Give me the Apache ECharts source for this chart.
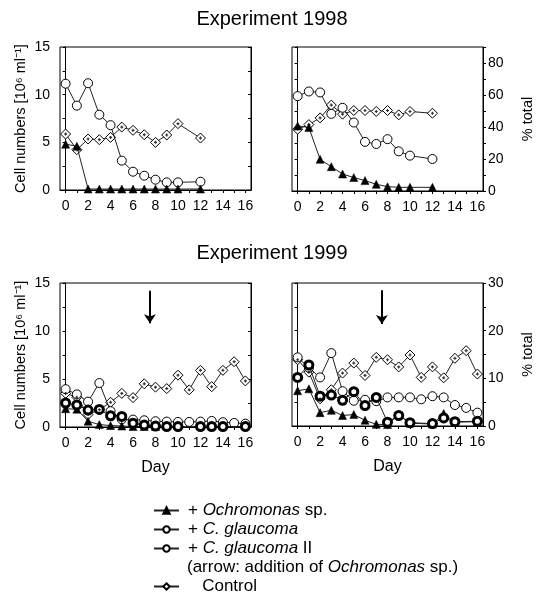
<!DOCTYPE html>
<html><head><meta charset="utf-8">
<script src="https://cdn.jsdelivr.net/npm/echarts@6/dist/echarts.min.js"></script>
<style>html,body{margin:0;padding:0;background:#fff}#c{width:544px;height:615px}</style>
</head><body><div id="c"></div>
<script>
// ---- tick labels ----
const xTickLabels = [0,2,4,6,8,10,12,14,16];
const xTickDays = [0,1,2,3,4,5,6,7,8,9,10,11,12,13,14,15,16];

// ---- Experiment 1998 ----
const days1998 = [0,1,2,3,4,5,6,7,8,9,10,12];
const cells98Ochro   = [4.8,4.6,0.1,0.1,0.1,0.1,0.1,0.1,0.1,0.1,0.1,0.1];
const cells98Glauc   = [11.15,8.85,11.2,7.9,6.8,3.08,1.92,1.5,1.08,0.8,0.8,0.87];
const cells98Control = [5.87,4.23,5.35,5.28,5.52,6.6,6.26,5.8,5.0,5.77,6.96,5.45];
const pct98Ochro   = [40.7,39.7,19.8,15.2,10.6,8.4,6.5,4.2,2.7,2.3,2.3,2.3];
const pct98Glauc   = [59.3,62.2,61.6,48.2,52,42.8,30.7,29.4,32.4,24.8,22.1,20];
const pct98Control = [38.6,41.5,45.7,53.7,48,50.3,50.3,49.7,50.3,47.6,49.7,48.6];

// ---- Experiment 1999 ----
const days1999All = [0,1,2,3,4,5,6,7,8,9,10,11,12,13,14,15,16];
const days1999II  = [0,1,2,3,4,5,6,7,8,9,10,12,13,14,16];
const days1999OchroCells = [0,1,2,3,4,5,6,7,8];
const cells99Ochro   = [1.9,1.85,0.6,0.25,0.15,0.1,0.05,0.05,0.05];
const cells99Glauc   = [3.94,3.4,2.64,4.58,1.65,0.8,0.77,0.7,0.6,0.56,0.53,0.53,0.56,0.63,0.5,0.42,0.35];
const cells99GlaucII = [2.5,2.3,1.76,1.83,1.16,1.1,0.4,0.2,0.1,0.05,0.05,0.05,0.05,0.05,0.05];
const cells99Control = [3.5,3.1,1.3,1.8,2.57,3.5,3.06,4.5,4.15,4.0,5.4,3.87,5.9,4.2,5.9,6.8,4.8];
const days1999OchroPct = [0,1,2,3,4,5,6,7,8,9,10,12,13,14,16];
const pct99Ochro   = [7.4,7.8,2.8,3.3,2.2,2.4,1.2,0.35,0.3,2.4,0.6,0.4,2.6,0.8,0.9];
const pct99Glauc   = [14.4,12.2,10.2,15.3,7.3,5.3,5.5,5.2,6.0,6.0,6.0,5.6,6.25,6.0,4.4,3.8,2.8];
const pct99GlaucII = [10.2,12.8,6.25,6.5,5.4,7.2,4.3,6.0,0.8,2.2,0.7,0.5,1.7,0.9,1.0];
const pct99Control = [13.9,11.3,5.7,7.6,11.1,13.2,10.6,14.4,13.9,12.4,14.9,10.2,12.4,10.1,14.2,15.8,10.9];

// ---- arrows (addition of Ochromonas) ----
const arrowDay = 7.5;
const arrowCells = [14.2, 10.8];
const arrowPct = [28.5, 21.4];

const FONT = 'Liberation Sans, Arial, sans-serif';
const pair = (days, vals) => days.map((d, i) => [d, vals[i]]);

const grids = [
  {left:60, top:47, width:191, height:143},
  {left:292, top:47, width:191, height:144},
  {left:60, top:283, width:191, height:144},
  {left:292, top:283, width:191, height:143}
];
grids.forEach(g => { g.show = true; g.borderColor = '#000'; g.borderWidth = 1; g.backgroundColor = 'transparent'; });

const axLine = {show:true, lineStyle:{color:'#000', width:1}};
const lbl = {color:'#000', fontSize:14, fontFamily:FONT};

const xAxes = grids.map((g, i) => ({
  type:'value', gridIndex:i, min:-0.5, max:16.5,
  axisLine: axLine, splitLine:{show:false},
  axisTick:{show:true, customValues:xTickDays, length:3, lineStyle:{color:'#000'}},
  axisLabel:Object.assign({customValues:xTickLabels, margin:9}, lbl),
  name: i >= 2 ? 'Day' : '', nameLocation:'middle', nameGap:33,
  nameTextStyle:{color:'#000', fontSize:16, fontFamily:FONT}
}));

function yAx(gi, pos, max, interval, opts) {
  return Object.assign({
    type:'value', gridIndex:gi, position:pos, min:0, max:max, interval:interval,
    axisLine: axLine, splitLine:{show:false},
    axisTick:{show:true, length:3, inside:false, lineStyle:{color:'#000'}},
    axisLabel:Object.assign({show:false, margin:6}, lbl),
    nameLocation:'middle', nameRotate:90,
    nameTextStyle:{color:'#000', fontSize:14.5, fontFamily:FONT}
  }, opts || {});
}
const cellName = 'Cell numbers [10\u2076 ml\u207B\u00B9]';
const yAxes = [
  yAx(0,'left',15,5,{axisLabel:Object.assign({show:true, margin:10}, lbl), minorTick:{show:true, splitNumber:2, length:3, lineStyle:{color:'#000'}}, name:cellName, nameGap:32}),
  yAx(0,'right',15,2.5,{axisTick:{show:true, inside:true, length:3, lineStyle:{color:'#000'}}}),
  yAx(1,'left',90,10,{}),
  yAx(1,'right',90,10,{axisLabel:Object.assign({show:true, margin:5, formatter: v => (v % 20 === 0 && v < 90) ? String(v) : ''}, lbl), name:'% total', nameGap:37}),
  yAx(2,'left',15,5,{axisLabel:Object.assign({show:true, margin:10}, lbl), minorTick:{show:true, splitNumber:2, length:3, lineStyle:{color:'#000'}}, name:cellName, nameGap:32}),
  yAx(2,'right',15,2.5,{axisTick:{show:true, inside:true, length:3, lineStyle:{color:'#000'}}}),
  yAx(3,'left',30,5,{}),
  yAx(3,'right',30,10,{axisLabel:Object.assign({show:true, margin:5}, lbl), minorTick:{show:true, splitNumber:2, length:3, lineStyle:{color:'#000'}}, name:'% total', nameGap:37})
];

const lineSt = {color:'#222', width:1};
const styles = {
  Ochromonas: {symbol:'triangle', symbolSize:8, itemStyle:{color:'#000', borderColor:'#000', borderWidth:0.5}},
  Glauc: {symbol:'circle', symbolSize:9, itemStyle:{color:'#fff', borderColor:'#000', borderWidth:1}},
  GlaucII: {symbol:'circle', symbolSize:8, itemStyle:{color:'#fff', borderColor:'#000', borderWidth:3}},
  Control: {symbol:'diamond', symbolSize:10, itemStyle:{color:'#fff', borderColor:'#000', borderWidth:1}}
};
function ser(name, xi, yi, days, vals, z) {
  return Object.assign({
    type:'line', name:name, xAxisIndex:xi, yAxisIndex:yi, data:pair(days, vals),
    lineStyle:lineSt, showAllSymbol:true, animation:false, z:z, connectNulls:true,
    emphasis:{disabled:true}
  }, styles[name]);
}
function dots(xi, yi, days, vals) {
  return {type:'scatter', name:'ctrlDot', xAxisIndex:xi, yAxisIndex:yi, data:pair(days, vals),
    symbol:'path://M-1,0L1,0M0,-1L0,1', symbolSize:3, z:9, animation:false, silent:true,
    itemStyle:{color:'none', borderColor:'#000', borderWidth:1.2}};
}
function arrow(xi, yi, vals) {
  return {type:'lines', coordinateSystem:'cartesian2d', xAxisIndex:xi, yAxisIndex:yi, animation:false, silent:true,
    symbol:['none','arrow'], symbolSize:[0,9],
    lineStyle:{color:'#000', width:2, opacity:1},
    data:[{coords:[[arrowDay, vals[0]],[arrowDay, vals[1]]]}]};
}

const series = [
  ser('Control',0,0,days1998,cells98Control,3), dots(0,0,days1998,cells98Control),
  ser('Glauc',0,0,days1998,cells98Glauc,4),
  ser('Ochromonas',0,0,days1998,cells98Ochro,5),
  ser('Control',1,3,days1998,pct98Control,3), dots(1,3,days1998,pct98Control),
  ser('Glauc',1,3,days1998,pct98Glauc,4),
  ser('Ochromonas',1,3,days1998,pct98Ochro,5),
  ser('Control',2,4,days1999All,cells99Control,3), dots(2,4,days1999All,cells99Control),
  ser('Glauc',2,4,days1999All,cells99Glauc,4),
  ser('Ochromonas',2,4,days1999OchroCells,cells99Ochro,5),
  ser('GlaucII',2,4,days1999II,cells99GlaucII,6),
  arrow(2,4,arrowCells),
  ser('Control',3,7,days1999All,pct99Control,3), dots(3,7,days1999All,pct99Control),
  ser('Glauc',3,7,days1999All,pct99Glauc,4),
  ser('Ochromonas',3,7,days1999OchroPct,pct99Ochro,5),
  ser('GlaucII',3,7,days1999II,pct99GlaucII,6),
  arrow(3,7,arrowPct)
];

const LF = 17;
const rich = {
  n:{fontSize:LF, fontFamily:FONT, color:'#000'},
  i:{fontSize:LF, fontFamily:FONT, color:'#000', fontStyle:'italic'}
};
const legendText = {
  Ochromonas:'{n|+ }{i|Ochromonas}{n| sp.}',
  Glauc:'{n|+ }{i|C. glaucoma}',
  GlaucII:'{n|+ }{i|C. glaucoma}{n| II}',
  Control:'{n|   Control}'
};
const legendBase = {
  orient:'vertical', left:153, itemWidth:25, itemHeight:8, itemGap:0, padding:0,
  selectedMode:false,
  textStyle:{fontSize:LF, lineHeight:19, fontFamily:FONT, color:'#000', rich:rich, padding:[0,0,0,4]},
  formatter: n => legendText[n]
};

const chart = echarts.init(document.getElementById('c'), null, {renderer:'canvas'});
chart.setOption({
  backgroundColor:'#fff',
  animation:false,
  title:[
    {text:'Experiment 1998', left:'center', top:4, textStyle:{fontSize:20, fontWeight:'normal', color:'#000', fontFamily:FONT}},
    {text:'Experiment 1999', left:'center', top:238, textStyle:{fontSize:20, fontWeight:'normal', color:'#000', fontFamily:FONT}}
  ],
  grid:grids, xAxis:xAxes, yAxis:yAxes, series:series,
  legend:[
    Object.assign({}, legendBase, {top:501, data:['Ochromonas','Glauc','GlaucII']}),
    Object.assign({}, legendBase, {top:577, data:['Control']})
  ],
  graphic:[{type:'text', left:187, top:559, style:{text:'{n|(arrow: addition of }{i|Ochromonas}{n| sp.)}', rich:rich}}]
});
</script></body></html>
